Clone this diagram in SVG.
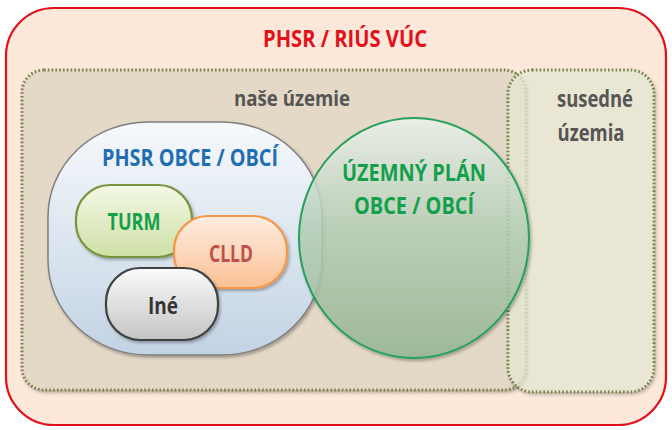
<svg xmlns="http://www.w3.org/2000/svg" width="672" height="430" viewBox="0 0 672 430">
<defs>
<linearGradient id="gBlue" x1="0" y1="0" x2="0" y2="1"><stop offset="0" stop-color="#f6f9fc"/><stop offset="1" stop-color="#c3d3e4"/></linearGradient>
<linearGradient id="gGreen" x1="0" y1="0" x2="0" y2="1"><stop offset="0" stop-color="#f0f5ef" stop-opacity="0.85"/><stop offset="0.45" stop-color="#b9d3bb" stop-opacity="0.8"/><stop offset="1" stop-color="#98b895" stop-opacity="0.85"/></linearGradient>
<linearGradient id="gTurm" x1="0" y1="0" x2="0" y2="1"><stop offset="0" stop-color="#f3f8e6"/><stop offset="1" stop-color="#cfe0a6"/></linearGradient>
<linearGradient id="gClld" x1="0" y1="0" x2="0" y2="1"><stop offset="0" stop-color="#feeee0"/><stop offset="1" stop-color="#fbc094"/></linearGradient>
<linearGradient id="gIne" x1="0" y1="0" x2="0" y2="1"><stop offset="0" stop-color="#fbfbfb"/><stop offset="1" stop-color="#c4c4c4"/></linearGradient>
<filter id="sh" x="-10%" y="-10%" width="130%" height="130%"><feDropShadow dx="1.5" dy="2" stdDeviation="1.5" flood-color="#000" flood-opacity="0.3"/></filter>
</defs>
<style>
text{font-family:"Open Sans","Liberation Sans",sans-serif;font-weight:bold;text-anchor:middle;dominant-baseline:central}
.dot{stroke:#748247;stroke-width:3;stroke-dasharray:1.6 2.2}
.pill{stroke-width:2.2;filter:url(#sh)}
</style>
<g id="vuc">
<rect x="6" y="8" width="660" height="417" rx="48" fill="#fde8da" stroke="#e3101a" stroke-width="2.2"/>
<text x="345" y="37" font-size="24" fill="#e3101a" textLength="164" lengthAdjust="spacingAndGlyphs">PHSR / RIÚS VÚC</text>
</g>
<g id="nase-uzemie">
<rect x="22" y="70" width="504" height="320" rx="22" fill="#e4d8c6" class="dot" filter="url(#sh)"/>
<text x="292" y="97" font-size="22" fill="#555" textLength="116" lengthAdjust="spacingAndGlyphs">naše územie</text>
</g>
<g id="susedne-uzemia">
<rect x="508" y="70" width="146" height="322" rx="24" fill="#ecefd8" fill-opacity="0.72" class="dot" filter="url(#sh)"/>
<text x="595" y="98" font-size="23" fill="#555" textLength="76" lengthAdjust="spacingAndGlyphs">susedné</text>
<text x="591" y="132" font-size="23" fill="#555" textLength="67" lengthAdjust="spacingAndGlyphs">územia</text>
</g>
<g id="phsr-obce">
<rect x="48" y="122" width="274" height="233" rx="100" ry="95" fill="url(#gBlue)" stroke="#7f7f7f" stroke-width="1.5" filter="url(#sh)"/>
<text x="190" y="157" font-size="23" fill="#1f6db5" textLength="176" lengthAdjust="spacingAndGlyphs">PHSR OBCE / OBCÍ</text>
</g>
<g id="uzemny-plan">
<ellipse cx="414" cy="238" rx="115" ry="120" fill="url(#gGreen)" stroke="#27a05a" stroke-width="2" filter="url(#sh)"/>
<text x="414" y="171" font-size="24" fill="#13a04a" textLength="144" lengthAdjust="spacingAndGlyphs">ÚZEMNÝ PLÁN</text>
<text x="414" y="204" font-size="24" fill="#13a04a" textLength="120" lengthAdjust="spacingAndGlyphs">OBCE / OBCÍ</text>
</g>
<g id="turm">
<rect x="76" y="185" width="116" height="72" rx="34" fill="url(#gTurm)" stroke="#77933c" class="pill"/>
<text x="134" y="221" font-size="23" fill="#15a04a" textLength="53" lengthAdjust="spacingAndGlyphs">TURM</text>
</g>
<g id="clld">
<rect x="174" y="216" width="113" height="72" rx="34" fill="url(#gClld)" stroke="#f79646" class="pill"/>
<text x="231" y="253" font-size="23" fill="#c0504d" textLength="44" lengthAdjust="spacingAndGlyphs">CLLD</text>
</g>
<g id="ine">
<rect x="106" y="268" width="112" height="72" rx="34" fill="url(#gIne)" stroke="#404040" class="pill"/>
<text x="163" y="305" font-size="23" fill="#333" textLength="30" lengthAdjust="spacingAndGlyphs">Iné</text>
</g>
<g id="connectors"/>
</svg>
